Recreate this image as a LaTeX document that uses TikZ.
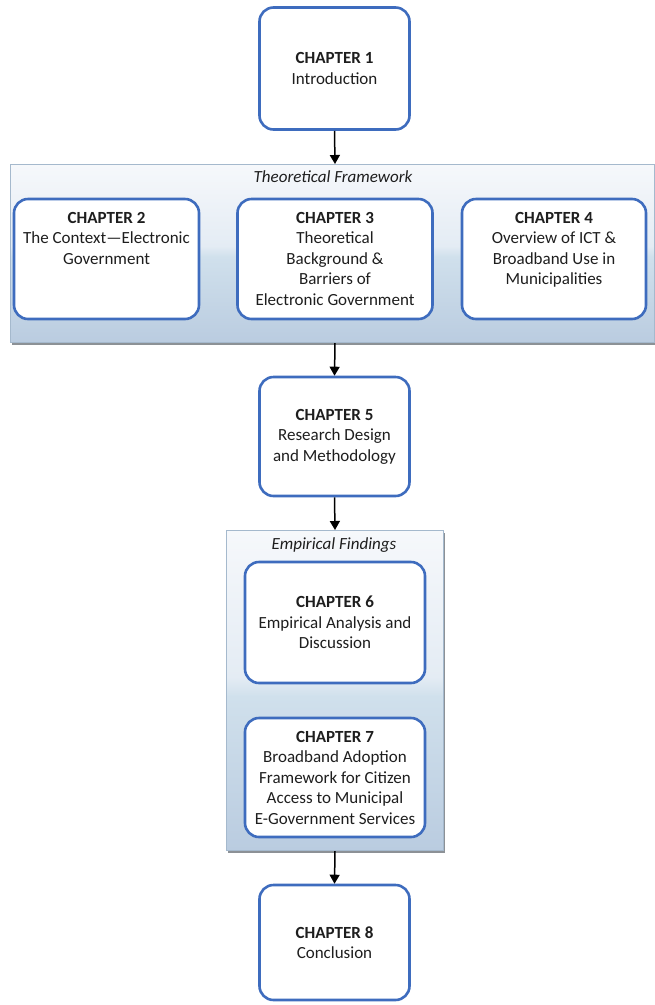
\documentclass[tikz,border=0pt]{standalone}
\usepackage{fontspec}
\setmainfont{Carlito}
\usetikzlibrary{arrows.meta}

\definecolor{chapblue}{RGB}{62,108,190}
\definecolor{panelline}{RGB}{165,185,205}
\definecolor{panelshadow}{RGB}{140,145,150}
\definecolor{pbot}{RGB}{186,204,224}
\definecolor{pmid}{RGB}{208,224,236}
\definecolor{ptop}{RGB}{228,236,244}
\definecolor{phigh}{RGB}{246,248,251}
\definecolor{txt}{RGB}{30,30,30}

% panel background: near white on top, soft blue towards the bottom
\pgfdeclareverticalshading{panelshade}{100bp}{%
  color(0bp)=(pbot); color(25bp)=(pbot); color(49bp)=(pmid);
  color(52bp)=(ptop); color(75bp)=(phigh); color(100bp)=(phigh)}

\tikzset{
  chapbox/.style={draw=chapblue, line width=2.6pt, rounded corners=14pt,
    fill=white, inner sep=0pt, align=center, text=txt,
    font=\fontsize{17}{20.5}\selectfont},
  toptext/.style={anchor=north, align=center, text=txt, inner sep=0pt,
    font=\fontsize{17}{20.5}\selectfont},
  panel/.style={draw=panelline, line width=0.8pt, shading=panelshade},
  panelshadow/.style={fill=panelshadow},
  paneltitle/.style={font=\fontsize{17}{20}\selectfont\itshape, text=txt, inner sep=0pt},
  flow/.style={draw=black, line width=1.5pt,
    -{Triangle[width=10pt,length=9pt]}},
}

\begin{document}
\begin{tikzpicture}[x=1pt,y=-1pt]
\useasboundingbox (0,0) rectangle (654,1005);

% Theoretical framework panel
\fill[panelshadow] (12,167) rectangle (656,345);
\path[panel] (10,164) rectangle (654,342);
\coordinate (tftop) at (335,164);
\coordinate (tfbot) at (335,343);
\node[paneltitle] (tftitle) at (333,177) {Theoretical Framework};

% Empirical findings panel
\fill[panelshadow] (228,533) rectangle (445,853);
\path[panel] (226,530) rectangle (443,850);
\coordinate (eftop) at (335,530);
\coordinate (efbot) at (335,851);
\node[paneltitle] (eftitle) at (334,545) {Empirical Findings};

% chapter boxes
\node[chapbox, minimum width=150pt, minimum height=122pt] (c1) at (334.5,68.5)
  {\textbf{CHAPTER 1}\\Introduction};

\node[chapbox, minimum width=185pt, minimum height=120pt] (c2) at (106.5,259) {};
\node[toptext] (t2) at ([yshift=-14pt]c2.north) {\textbf{CHAPTER 2}\\The Context—Electronic\\Government};

\node[chapbox, minimum width=195pt, minimum height=120pt] (c3) at (335,259) {};
\node[toptext] (t3) at ([yshift=-14pt]c3.north) {\textbf{CHAPTER 3}\\Theoretical\\Background \&\\Barriers of\\Electronic Government};

\node[chapbox, minimum width=184pt, minimum height=120pt] (c4) at (554,259) {};
\node[toptext] (t4) at ([yshift=-14pt]c4.north) {\textbf{CHAPTER 4}\\Overview of ICT \&\\Broadband Use in\\Municipalities};

\node[chapbox, minimum width=150pt, minimum height=119pt] (c5) at (334.5,436.5)
  {\textbf{CHAPTER 5}\\Research Design\\and Methodology};

\node[chapbox, minimum width=180pt, minimum height=121pt] (c6) at (335,622.5)
  {\textbf{CHAPTER 6}\\Empirical Analysis and\\Discussion};

\node[chapbox, minimum width=180pt, minimum height=119pt] (c7) at (335,777.5)
  {\textbf{CHAPTER 7}\\Broadband Adoption\\Framework for Citizen\\Access to Municipal\\E-Government Services};

\node[chapbox, minimum width=150pt, minimum height=115pt] (c8) at (334.5,942.5)
  {\textbf{CHAPTER 8}\\Conclusion};

% flow between stages
\draw[flow] (c1.south) -- (tftop);
\draw[flow] (tfbot) -- (c5.north);
\draw[flow] (c5.south) -- (eftop);
\draw[flow] (efbot) -- (c8.north);
\end{tikzpicture}
\end{document}
